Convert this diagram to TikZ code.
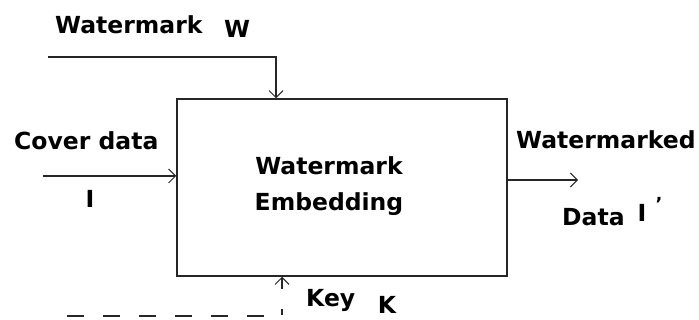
\documentclass[tikz,border=0pt]{standalone}
\usepackage{fontspec}
\setmainfont{DejaVu Sans}
\usetikzlibrary{arrows.meta}
\begin{document}
\begin{tikzpicture}[x=1pt,y=-1pt,
  lbl/.style={font=\fontsize{23.5}{26}\selectfont\bfseries, inner sep=0pt},
  line/.style={line width=1.3pt, draw=black!85},
  conn/.style={line, -{Straight Barb[length=7pt,width=14pt,line width=1pt]}},
  boxst/.style={draw=black!85, line width=1.5pt, minimum width=330pt, minimum height=177pt, inner sep=0pt}]
\useasboundingbox (0,0) rectangle (699,320);
\node[boxst] (emb) at (342,187.5) {};
\node[lbl, align=center, font=\fontsize{23.5}{36}\selectfont\bfseries] (embt) at (329,186) {Watermark\\Embedding};
% watermark input
\node[lbl, anchor=west] (wmt) at (55,25) {Watermark};
\node[lbl] (wmw) at (237,29) {W};
\coordinate (ws) at (48,57);
\coordinate (wc) at (276,57);
\draw[conn] (ws) -- (wc) -- (wc |- emb.north);
% cover data
\node[lbl, anchor=west] (cdt) at (14,141) {Cover data};
\node[lbl] (ci) at (90,199) {I};
\coordinate (cs) at (43,176);
\draw[conn] (cs) -- (cs -| emb.west);
% output
\node[lbl, anchor=west] (wdt) at (516,140) {Watermarked};
\node[lbl, anchor=west] (dt) at (562,217) {Data};
\node[lbl] (oi) at (642,213) {I};
\node[font=\fontsize{18}{18}\selectfont\bfseries, inner sep=0pt] (op) at (659,204) {’};
\coordinate (oe) at (578,180);
\draw[conn] (emb.east |- oe) -- (oe);
% key
\node[lbl, anchor=west] (kt) at (306,300) {Key};
\node[lbl] (kk) at (387,305) {K};
\coordinate (ks) at (67,316);
\coordinate (kc) at (282,316);
\coordinate (kd) at (282,309);
\coordinate (ka) at (282,289);
\draw[line, dash pattern=on 17pt off 19pt] (ks) -- (kc) -- (kd);
\draw[conn] (ka) -- (ka |- emb.south);
\end{tikzpicture}
\end{document}
